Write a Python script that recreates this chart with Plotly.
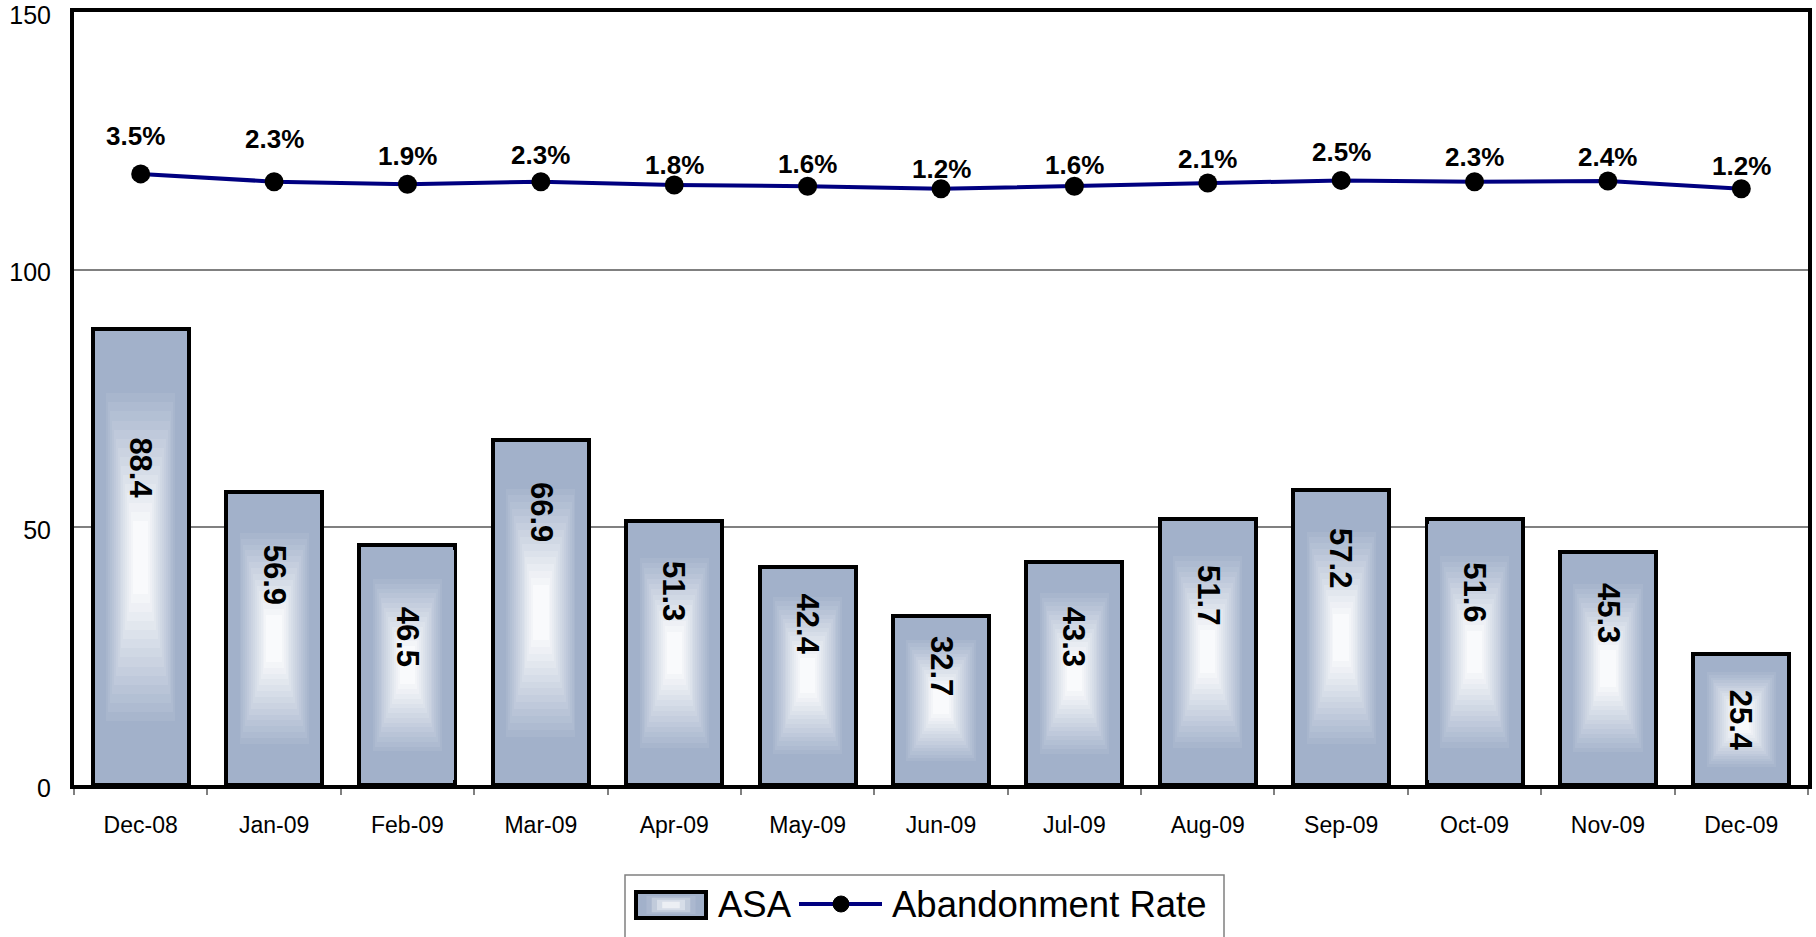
import plotly.graph_objects as go

# ---- data -------------------------------------------------------------
months = ["Dec-08", "Jan-09", "Feb-09", "Mar-09", "Apr-09", "May-09", "Jun-09",
          "Jul-09", "Aug-09", "Sep-09", "Oct-09", "Nov-09", "Dec-09"]
asa = [88.4, 56.9, 46.5, 66.9, 51.3, 42.4, 32.7, 43.3, 51.7, 57.2, 51.6, 45.3, 25.4]
abandon_rate = [0.035, 0.023, 0.019, 0.023, 0.018, 0.016, 0.012,
                0.016, 0.021, 0.025, 0.023, 0.024, 0.012]
y_ticks = [0, 50, 100, 150]

# ---- label placement (layout only) ------------------------------------
asa_label_mid = [61.5, 40.8, 28.7, 53.0, 37.6, 31.2, 23.1, 28.7, 36.9, 44.0, 37.5, 33.4, 12.6]
rate_label_lift = [38, 43, 28, 27, 20, 22, 20, 21, 24, 28, 25, 24, 23]
rate_label_nudge = [-5, 0, 0, 0, 0, 0, 0, 0, 0, 0, 0, 0, 0]

FONT = "Liberation Sans, Arial, sans-serif"
EDGE = (162, 177, 202)
BAR_W = 0.72

# plot area in pixels
W, H = 1816, 937
PL, PR, PT, PB = 74, 1808, 12, 785


def px_x(p):
    return (p - PL) / (PR - PL)


def px_y(p):
    return (PB - p) / (PB - PT)


def shade(t):
    r, g, b = (round(255 + (c - 255) * t) for c in EDGE)
    return f"rgb({r},{g},{b})"


def tone(s):
    # colour weight for a nested layer of relative size s (1 = outer edge)
    return min(1.0, max(0.0, (s - 0.12) / 0.64))


fig = go.Figure()

# ASA bars: concentric layers give a light-centred gradient fill
scales = [1 - 0.04 * k for k in range(22)]
for i, s in enumerate(scales):
    fig.add_bar(
        x=months,
        y=[v * s for v in asa],
        base=[v * (1 - s) / 2 for v in asa],
        width=BAR_W * s,
        marker=dict(color=shade(tone(s)),
                    line=dict(color="black", width=4 if i == 0 else 0)),
        name="ASA",
        showlegend=False,
        hoverinfo="skip" if i else "x+y",
    )

# Abandonment rate line on a hidden secondary axis
fig.add_scatter(
    x=months, y=abandon_rate, yaxis="y2", mode="lines+markers",
    name="Abandonment Rate",
    line=dict(color="#000080", width=4),
    marker=dict(color="black", size=19),
    showlegend=False,
)

annotations = []
for m, v, mid in zip(months, asa, asa_label_mid):
    annotations.append(dict(
        x=m, y=mid, xref="x", yref="y", text=f"{v:.1f}", textangle=90,
        showarrow=False, font=dict(family=FONT, size=31, color="black", weight="bold"),
    ))
for m, r, lift, nudge in zip(months, abandon_rate, rate_label_lift, rate_label_nudge):
    annotations.append(dict(
        x=m, y=r, xref="x", yref="y2", text=f"{r * 100:.1f}%",
        yshift=lift, xshift=nudge,
        showarrow=False, font=dict(family=FONT, size=26, color="black", weight="bold"),
    ))

# legend box
shapes = [dict(type="rect", xref="paper", yref="paper",
               x0=px_x(625), x1=px_x(1224), y0=px_y(960), y1=px_y(875),
               line=dict(color="#808080", width=1.5), fillcolor="white", layer="above")]
# ASA swatch
cx, cy, sw, sh = 671, 905, 70, 26
for i, s in enumerate([1.0, 0.85, 0.7, 0.55, 0.4, 0.25]):
    shapes.append(dict(type="rect", xref="paper", yref="paper",
                       x0=px_x(cx - sw * s / 2), x1=px_x(cx + sw * s / 2),
                       y0=px_y(cy + sh * s / 2), y1=px_y(cy - sh * s / 2),
                       fillcolor=shade(tone(s)),
                       line=dict(color="black", width=4 if i == 0 else 0), layer="above"))
# line + marker swatch
shapes.append(dict(type="line", xref="paper", yref="paper",
                   x0=px_x(799), x1=px_x(882), y0=px_y(904), y1=px_y(904),
                   line=dict(color="#000080", width=4), layer="above"))
shapes.append(dict(type="circle", xref="paper", yref="paper",
                   x0=px_x(833), x1=px_x(849), y0=px_y(912), y1=px_y(896),
                   fillcolor="black", line=dict(color="black", width=1), layer="above"))

for label, left in [("ASA", 716), ("Abandonment Rate", 890)]:
    annotations.append(dict(
        x=px_x(left), y=px_y(904), xref="paper", yref="paper", text=label,
        xanchor="left", yanchor="middle", showarrow=False,
        font=dict(family=FONT, size=36.5, color="black"),
    ))

fig.update_layout(
    width=W, height=H,
    margin=dict(l=PL, r=W - PR, t=PT, b=H - PB, autoexpand=False),
    paper_bgcolor="white", plot_bgcolor="white",
    barmode="overlay", bargap=0,
    showlegend=False,
    font=dict(family=FONT, color="black"),
    xaxis=dict(
        type="category", range=[-0.5, 12.5], automargin=False,
        showline=True, linecolor="black", linewidth=4, mirror=True,
        ticks="outside", tickson="boundaries", ticklen=6,
        tickcolor="#808080", tickwidth=1.5,
        showgrid=False, tickfont=dict(size=23, color="black"),
        ticklabelstandoff=16,
    ),
    yaxis=dict(
        range=[0, 150], tickvals=y_ticks, automargin=False,
        showline=True, linecolor="black", linewidth=4, mirror=True,
        showgrid=True, gridcolor="#808080", gridwidth=1.5,
        zeroline=False, ticks="",
        tickfont=dict(size=25, color="black"), ticklabelstandoff=14,
        ticklabeloverflow="allow", ticklabelshift=3,
    ),
    yaxis2=dict(overlaying="y", range=[-0.905, 0.284], visible=False),
    annotations=annotations,
    shapes=shapes,
)

fig.write_html("out.html")
